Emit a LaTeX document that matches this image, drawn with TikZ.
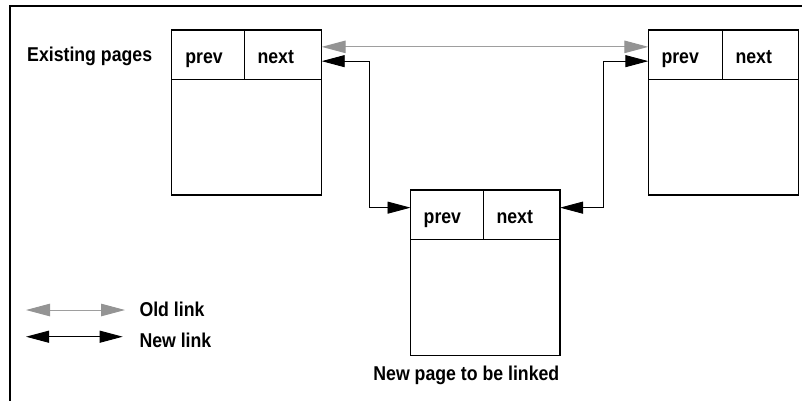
\documentclass[tikz,border=0pt]{standalone}
\usepackage{fontspec}
\setmainfont[FakeStretch=0.885]{Liberation Sans}
\usetikzlibrary{arrows.meta}
\definecolor{oldline}{gray}{0.62}
\definecolor{oldtip}{gray}{0.58}
\tikzset{
  cell/.style={draw, line width=1.2pt, inner sep=0pt, outer sep=0pt,
    minimum height=49.3pt, anchor=north west},
  body/.style={draw, line width=1.2pt, inner sep=0pt, outer sep=0pt,
    anchor=north west},
  lbl/.style={font=\fontsize{20}{24}\selectfont\bfseries, inner sep=0pt,
    anchor=base west},
  oldlink/.style={draw=oldline, line width=1pt,
    {Triangle[length=24pt,width=12.5pt,color=oldtip]}-{Triangle[length=24pt,width=12.5pt,color=oldtip]}},
  newlink/.style={draw=black, line width=0.9pt,
    {Triangle[length=23pt,width=12pt]}-{Triangle[length=23pt,width=12pt]}},
}
\begin{document}
\begin{tikzpicture}[x=1pt,y=-1pt]
\useasboundingbox (0,0) rectangle (802,400);

% outer frame (only its left and top sides fall inside the page)
\coordinate (fbl) at (10,402);
\coordinate (ftl) at (10,6);
\coordinate (ftr) at (804,6);
\draw[line width=1.2pt] (fbl) -- (ftl) -- (ftr);

% left existing page
\node[cell, minimum width=72.6pt] (a-prev) at (171.7,30) {};
\node[cell, minimum width=77.4pt] (a-next) at (244.3,30) {};
\node[body, minimum width=150pt, minimum height=115.7pt] (a-body) at (171.7,79.3) {};
\node[lbl] (a-prev-t) at ([xshift=13.5pt,yshift=-8.5pt]a-prev.west) {prev};
\node[lbl] (a-next-t) at ([xshift=13pt,yshift=-8.5pt]a-next.west) {next};

% right existing page
\node[cell, minimum width=74pt] (b-prev) at (648.3,30) {};
\node[cell, minimum width=76pt] (b-next) at (722.3,30) {};
\node[body, minimum width=150pt, minimum height=115.7pt] (b-body) at (648.3,79.3) {};
\node[lbl] (b-prev-t) at ([xshift=13pt,yshift=-8.5pt]b-prev.west) {prev};
\node[lbl] (b-next-t) at ([xshift=13pt,yshift=-8.5pt]b-next.west) {next};

% new page
\node[cell, minimum width=72.8pt] (c-prev) at (410.5,190) {};
\node[cell, minimum width=76.7pt] (c-next) at (483.3,190) {};
\node[body, minimum width=149.5pt, minimum height=116.4pt] (c-body) at (410.5,239.3) {};
\node[lbl] (c-prev-t) at ([xshift=13pt,yshift=-8.5pt]c-prev.west) {prev};
\node[lbl] (c-next-t) at ([xshift=13pt,yshift=-8.5pt]c-next.west) {next};

% captions
\node[lbl] (existing) at (27,61) {Existing pages};
\node[lbl, anchor=base east] (newpage) at (559.5,380) {New page to be linked};

% old link between the existing pages
\draw[oldlink] ([yshift=7.8pt]a-next.east) -- ([yshift=7.8pt]b-prev.west);

% new links through the inserted page
\draw[newlink] ([yshift=7pt]c-prev.west) -- ++(-40.7,0) |- ([yshift=-6.5pt]a-next.east);
\draw[newlink] ([yshift=7pt]c-next.east) -- ++(43.3,0) |- ([yshift=-6.5pt]b-prev.west);

% legend
\coordinate (old-l) at (26,310);
\coordinate (old-r) at (125,310);
\coordinate (new-l) at (26,336.7);
\coordinate (new-r) at (122.7,336.7);
\draw[oldlink] (old-l) -- (old-r);
\draw[newlink] (new-l) -- (new-r);
\node[lbl] (old-t) at (139.3,316.7) {Old link};
\node[lbl] (new-t) at (139.3,347.3) {New link};
\end{tikzpicture}
\end{document}
